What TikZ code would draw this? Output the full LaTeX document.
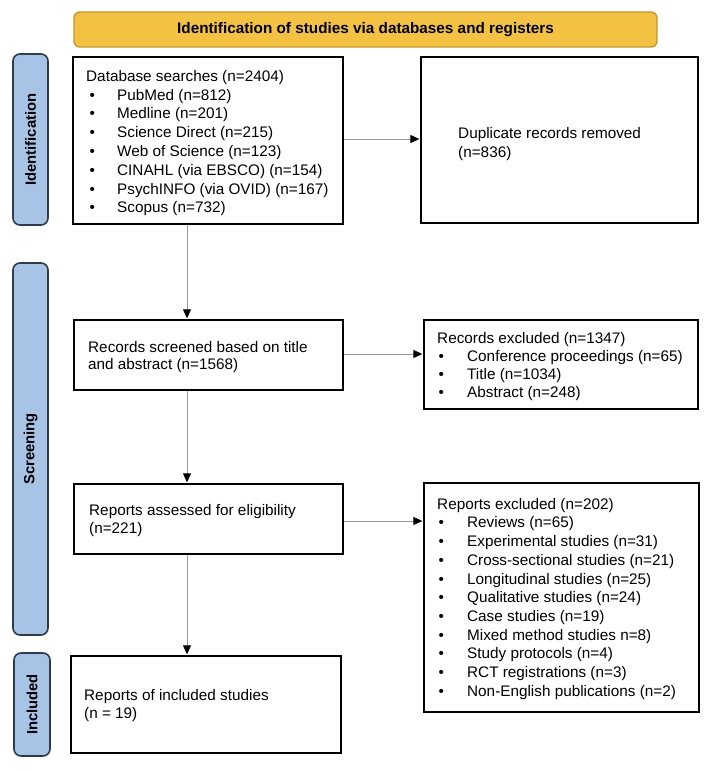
\documentclass[tikz,border=0pt]{standalone}
\usepackage{fontspec}
\setmainfont{Liberation Sans}
\usetikzlibrary{arrows.meta,fit}
\definecolor{barfill}{HTML}{F4C243}
\definecolor{barline}{HTML}{C5962C}
\definecolor{tabfill}{HTML}{A7C3E6}
\definecolor{tabline}{HTML}{2E3B4C}
\begin{document}
\begin{tikzpicture}[x=1pt,y=-1pt,
  box/.style={draw=black,line width=1.3pt,inner sep=0pt},
  tabbox/.style={draw=tabline,fill=tabfill,line width=1.6pt,rounded corners=7pt,inner sep=0pt},
  tablabel/.style={rotate=90,inner sep=0pt,font=\bfseries\fontsize{14.8}{16}\selectfont},
  txt/.style={anchor=north west,inner sep=0pt,align=left,font=\fontsize{15.3}{18.8}\selectfont},
  arr/.style={draw=black!40,line width=0.9pt,-{Triangle[length=9pt,width=8pt,black]},shorten >=1pt}]
\useasboundingbox (0,0) rectangle (720,770);
% title bar
\node[draw=barline,fill=barfill,line width=1.4pt,rounded corners=6pt,inner sep=0pt,fit={(74,12) (657,47)}] (bar) {};
\node[inner sep=0pt,font=\bfseries\fontsize{15.3}{17}\selectfont] (bart) at (bar.center) {Identification of studies via databases and registers};
% side tabs
\node[tabbox,fit={(13,54) (48,225)}] (idtab) {};
\node[tablabel] (idt) at (idtab.center) {Identification};
\node[tabbox,fit={(13,263) (48,635)}] (sctab) {};
\node[tablabel] (sct) at (sctab.center) {Screening};
\node[tabbox,fit={(14,653) (50,756)}] (intab) {};
\node[tablabel] (int) at (intab.center) {Included};
% boxes
\node[box,fit={(73,57) (343,224)}] (db) {};
\node[box,fit={(421,57) (698,223)}] (dup) {};
\node[box,fit={(74,320) (343,390)}] (rec) {};
\node[box,fit={(424,320) (698,409)}] (recex) {};
\node[box,fit={(74,484) (343,554)}] (rep) {};
\node[box,fit={(424,483) (699,712)}] (repex) {};
\node[box,fit={(71,656) (341,753)}] (inc) {};
% texts
\node[txt] (dbt) at (86,70) {Database searches (n=2404)\\
\hspace*{3.5pt}\makebox[27.5pt][l]{•}PubMed (n=812)\\
\hspace*{3.5pt}\makebox[27.5pt][l]{•}Medline (n=201)\\
\hspace*{3.5pt}\makebox[27.5pt][l]{•}Science Direct (n=215)\\
\hspace*{3.5pt}\makebox[27.5pt][l]{•}Web of Science (n=123)\\
\hspace*{3.5pt}\makebox[27.5pt][l]{•}CINAHL (via EBSCO) (n=154)\\
\hspace*{3.5pt}\makebox[27.5pt][l]{•}PsychINFO (via OVID) (n=167)\\
\hspace*{3.5pt}\makebox[27.5pt][l]{•}Scopus (n=732)};
\node[txt] (dupt) at (458,127) {Duplicate records removed\\(n=836)};
\node[txt,font=\fontsize{15.3}{17.5}\selectfont] (rect) at (88,341) {Records screened based on title\\and abstract (n=1568)};
\node[txt,font=\fontsize{15.3}{18}\selectfont] (recext) at (437,332) {Records excluded (n=1347)\\
\hspace*{1.5pt}\makebox[28.5pt][l]{•}Conference proceedings (n=65)\\
\hspace*{1.5pt}\makebox[28.5pt][l]{•}Title (n=1034)\\
\hspace*{1.5pt}\makebox[28.5pt][l]{•}Abstract (n=248)};
\node[txt,font=\fontsize{15.3}{18}\selectfont] (rept) at (89,504) {Reports assessed for eligibility\\(n=221)};
\node[txt,font=\fontsize{15.3}{18.7}\selectfont] (repext) at (437,498) {Reports excluded (n=202)\\
\hspace*{1.5pt}\makebox[28.5pt][l]{•}Reviews (n=65)\\
\hspace*{1.5pt}\makebox[28.5pt][l]{•}Experimental studies (n=31)\\
\hspace*{1.5pt}\makebox[28.5pt][l]{•}Cross-sectional studies (n=21)\\
\hspace*{1.5pt}\makebox[28.5pt][l]{•}Longitudinal studies (n=25)\\
\hspace*{1.5pt}\makebox[28.5pt][l]{•}Qualitative studies (n=24)\\
\hspace*{1.5pt}\makebox[28.5pt][l]{•}Case studies (n=19)\\
\hspace*{1.5pt}\makebox[28.5pt][l]{•}Mixed method studies n=8)\\
\hspace*{1.5pt}\makebox[28.5pt][l]{•}Study protocols (n=4)\\
\hspace*{1.5pt}\makebox[28.5pt][l]{•}RCT registrations (n=3)\\
\hspace*{1.5pt}\makebox[28.5pt][l]{•}Non-English publications (n=2)};
\node[txt,font=\fontsize{15.3}{18}\selectfont] (inct) at (84,689) {Reports of included studies\\(n = 19)};
% connectors
\coordinate (ax) at (187,0);
\draw[arr] (db.south -| ax) -- (rec.north -| ax);
\draw[arr] (rec.south -| ax) -- (rep.north -| ax);
\draw[arr] (rep.south -| ax) -- (inc.north -| ax);
\draw[arr] (db.east |- 0,139) -- (dup.west |- 0,139);
\draw[arr] (rec.east |- 0,354) -- (recex.west |- 0,354);
\draw[arr] (rep.east |- 0,521) -- (repex.west |- 0,521);
\end{tikzpicture}
\end{document}
